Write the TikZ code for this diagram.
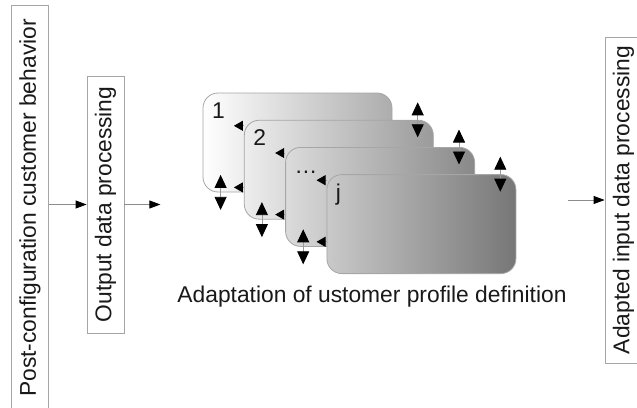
\documentclass[tikz,border=0pt]{standalone}
\usepackage{fontspec}
\setmainfont{Liberation Sans}
\usetikzlibrary{arrows.meta,positioning}

\tikzset{
  txt/.style={font=\fontsize{11.4}{13.6}\selectfont, text=black!90},
  vbox/.style={txt, draw=black!35, rotate=90, inner sep=0pt, minimum height=18.5pt},
  card/.style={draw=black!35, rounded corners=7.5pt, minimum width=94.5pt, minimum height=49.5pt, inner sep=0pt},
  flow/.style={draw=black!45, -{Triangle[length=5.5pt,width=4pt,color=black]}},
  updown/.style={draw=black!40, {Triangle[length=6.5pt,width=6pt,color=black]}-{Triangle[length=6.5pt,width=6pt,color=black]}},
  lhead/.style={draw=black!40, -{Triangle[length=4.5pt,width=5pt,color=black]}},
}

\begin{document}
\begin{tikzpicture}[x=0.5pt,y=-0.5pt]
\useasboundingbox (0,0) rectangle (637,407);

% side boxes
\node[vbox, minimum width=203pt] (post) at (30,208) {Post-configuration customer behavior};
\node[vbox, minimum width=128.5pt] (outp) at (105.5,204.5) {Output data processing};
\node[vbox, minimum width=163pt] (adin) at (623.5,200) {Adapted input data processing};

% stack of profiles
\foreach \i/\t in {1/1,2/2,3/\ldots,4/j}{
  \pgfmathsetmacro\pl{(41.3*(\i-1))/312*53.3}
  \pgfmathsetmacro\pr{(41.3*(\i-1)+189)/312*53.3}
  \node[card, left color=black!\pl, right color=black!\pr] (c\i) at (297.5+41.3*\i-41.3,142.5+27.2*\i-27.2) {};
  \node[txt, anchor=base west, inner sep=0pt] (n\i) at ([shift={(9,26)}]c\i.north west) {\t};
}
\foreach \i in {2,3,4}
  \draw[updown] ([shift={(-16,-17.5)}]c\i.north east) -- ([shift={(-16,17.5)}]c\i.north east);
\foreach \i in {1,2,3}
  \draw[updown] ([shift={(18,-17.5)}]c\i.south west) -- ([shift={(18,17.5)}]c\i.south west);
\foreach \i [evaluate=\i as \j using int(\i-1)] in {2,3,4}{
  \coordinate (b\i) at (c\i.west |- c\j.south);
  \draw[lhead] ([shift={(0,6)}]c\i.north west) -- ++(-10,0);
  \draw[lhead] ([shift={(0,-5)}]b\i) -- ++(-10,0);
}

\node[txt] (capt) at (372,297) {Adaptation of ustomer profile definition};

% connectors
\coordinate (tostack) at ([shift={(36,0)}]outp.south);
\coordinate (fromstack) at ([shift={(-37,0)}]adin.north);
\draw[flow] (post.south |- outp.north) -- (outp.north);
\draw[flow] (outp.south) -- (tostack);
\draw[flow] (fromstack) -- (adin.north);
\end{tikzpicture}
\end{document}
